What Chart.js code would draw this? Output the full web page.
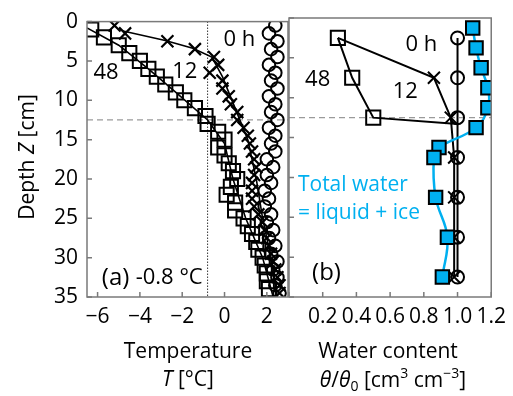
<!DOCTYPE html>
<html>
<head>
<meta charset="utf-8">
<script src="https://cdn.jsdelivr.net/npm/chart.js@4.4.1/dist/chart.umd.min.js"></script>
<style>
  html, body { margin: 0; padding: 0; background: #fff; }
  #wrap { position: relative; width: 513px; height: 396px; overflow: hidden; }
  #wrap canvas { position: absolute; top: 0; }
  #tempChart { left: 0; }
  #waterChart { left: 250px; }
</style>
</head>
<body>
<div id="wrap">
  <canvas id="tempChart" width="300" height="396"></canvas>
  <canvas id="waterChart" width="263" height="396"></canvas>
</div>
<script>
// ---- data (a) temperature profiles ----
const depthT = [0.5, 1.5, 2.5, 3.5, 4.5, 5.5, 6.5, 7.5, 8.5, 9.5, 10.5, 11.5, 12.5, 13.5, 14.5, 15.5, 16.5, 17.5,
  18.5, 19.5, 20.5, 21.5, 22.5, 23.5, 24.5, 25.5, 26.5, 27.5, 28.5, 29.5, 30.5, 31.5, 32.5, 33.5, 34.5];
const temp0h = [2.4, 2.1, 2.5, 2.2, 2.5, 2.1, 2.4, 2.2, 2.5, 2.1, 2.4, 2.2, 2.5, 2.1, 2.4, 2.2, 2.4, 2.0,
  2.3, 2.0, 2.2, 1.9, 2.1, 1.9, 2.2, 2.0, 2.3, 2.1, 2.4, 2.2, 2.5, 2.3, 2.5, 2.4, 2.6];
const temp12h = [-5.2, -4.7, -2.7, -1.4, -0.5, -0.3, -0.7, -0.1, -0.1, 0.2, 0.3, 0.6, 0.6, 0.9, 1.1, 1.2, 1.3, 1.4,
  1.5, 1.4, 1.3, 1.3, 1.3, 1.4, 1.6, 1.8, 1.9, 2.0, 2.1, 2.2, 2.3, 2.4, 2.5, 2.6, 2.6];
const depthT48 = [1, 2, 3, 4, 5, 6, 7, 8, 9, 10, 11, 12, 13, 14, 15, 16, 17, 18, 19, 20, 21, 22, 23, 24, 25, 26, 27,
  28, 29, 30, 31, 32, 33, 34];
const temp48h = [-6.3, -5.7, -5.0, -4.5, -4.0, -3.6, -3.2, -2.8, -2.3, -1.9, -1.4, -0.9, -0.8, -0.3, 0.0, -0.3, 0.0,
  0.2, 0.4, 0.6, 0.3, 0.1, 0.5, 0.5, 0.9, 1.1, 1.3, 1.5, 1.6, 1.8, 1.9, 2.0, 2.0, 2.1];
// simulated profiles (lines)
const depth12Sim = [1.2, 2.4, 3.4, 4.5, 7, 11, 15, 20, 25, 30, 35];
const temp12Sim = [-4.8, -2.8, -1.5, -0.6, -0.1, 0.5, 1.1, 1.5, 1.8, 2.2, 2.5];
const depth48Sim = [0.8, 3, 6, 9, 12.5, 15.5, 20, 25, 30, 35];
const temp48Sim = [-6.5, -5.0, -3.6, -2.3, -0.8, 0.0, 0.4, 1.0, 1.8, 2.3];

// ---- data (b) water content ----
const depthW = [2.5, 7.5, 12.5, 17.5, 22.5, 27.5, 32.5];
const water0h = [1.0, 1.0, 1.0, 1.0, 1.0, 1.0, 1.0];
const water12h = [0.29, 0.86, 0.96, 0.98, 0.98, 0.98, 0.98];
const depthW48 = [2.5, 7.5, 12.5, 13.3];
const water48h = [0.29, 0.375, 0.50, 1.0];
const depthTotal = [1.25, 3.75, 6.25, 8.75, 11.25, 13.75, 16.25, 17.5, 22.5, 27.5, 32.5];
const waterTotal = [1.09, 1.11, 1.14, 1.18, 1.18, 1.11, 0.89, 0.86, 0.87, 0.94, 0.91];

// ---- ticks / reference lines ----
const depthTicks = [0, 5, 10, 15, 20, 25, 30, 35];
const tempTicks = [-6, -4, -2, 0, 2];
const waterTicks = [0, 0.2, 0.4, 0.6, 0.8, 1.0, 1.2];
const freezeTemp = -0.8;
const frontDepth = 12.5;

const FONT = "'Open Sans', 'Noto Sans', sans-serif";
const CYAN = '#00b0f0';
Chart.defaults.font.family = FONT;
Chart.defaults.font.size = 21;
Chart.defaults.color = '#000';

const pts = (xs, ys) => xs.map((v, i) => ({ x: v, y: ys[i] }));

// rich text: parts = [{t, it, sub, sup}]
function drawRich(ctx, parts, x, y, size, color) {
  const fontOf = p => (p.it ? 'italic ' : '') + Math.round((p.sub || p.sup) ? size * 0.65 : size) + 'px ' + FONT;
  let w = 0;
  parts.forEach(p => { ctx.font = fontOf(p); w += ctx.measureText(p.t).width; });
  let cx = x - w / 2;
  ctx.fillStyle = color;
  ctx.textAlign = 'left';
  ctx.textBaseline = 'middle';
  parts.forEach(p => {
    ctx.font = fontOf(p);
    const dy = p.sup ? -size * 0.32 : p.sub ? size * 0.3 : 0;
    ctx.fillText(p.t, cx, y + dy);
    cx += ctx.measureText(p.t).width;
  });
}

const panelPlugin = {
  id: 'panel',
  beforeDatasetsDraw(chart, args, opts) {
    const { ctx, chartArea: a, scales } = chart;
    ctx.save();
    const yF = scales.y.getPixelForValue(frontDepth);
    ctx.strokeStyle = '#9a9a9a';
    ctx.lineWidth = 1.2;
    ctx.setLineDash([6, 4]);
    ctx.beginPath(); ctx.moveTo(a.left, yF); ctx.lineTo(a.right, yF); ctx.stroke();
    if (opts.freeze) {
      const xF = scales.x.getPixelForValue(freezeTemp);
      ctx.strokeStyle = '#000';
      ctx.lineWidth = 1;
      ctx.setLineDash([1.2, 1.8]);
      ctx.beginPath(); ctx.moveTo(xF, a.top); ctx.lineTo(xF, a.bottom); ctx.stroke();
    }
    ctx.restore();
  },
  afterDraw(chart, args, opts) {
    const { ctx, chartArea: a, scales } = chart;
    ctx.save();
    ctx.strokeStyle = '#7a7a7a';
    ctx.lineWidth = 1.5;
    ctx.strokeRect(a.left, a.top, a.right - a.left, a.bottom - a.top);
    // inward tick marks
    ctx.beginPath();
    scales.y.ticks.forEach(t => {
      const y = scales.y.getPixelForValue(t.value);
      ctx.moveTo(a.left, y); ctx.lineTo(a.left + 5, y);
    });
    scales.x.ticks.forEach(t => {
      const x = scales.x.getPixelForValue(t.value);
      ctx.moveTo(x, a.bottom); ctx.lineTo(x, a.bottom - 5);
    });
    ctx.stroke();
    // text inside the panel
    (opts.notes || []).forEach(n => {
      ctx.font = (n.size || 22) + 'px ' + FONT;
      ctx.fillStyle = n.color || '#000';
      ctx.textAlign = n.align || 'center';
      ctx.textBaseline = 'middle';
      ctx.fillText(n.text, scales.x.getPixelForValue(n.x), scales.y.getPixelForValue(n.y));
    });
    // axis titles
    (opts.titles || []).forEach(tt => {
      ctx.save();
      ctx.translate(tt.x, tt.y);
      if (tt.rot) ctx.rotate(-Math.PI / 2);
      drawRich(ctx, tt.parts, 0, 0, 21, '#000');
      ctx.restore();
    });
    ctx.restore();
  }
};

function yAxis(width, showLabels) {
  return {
    type: 'linear', min: 0, max: 35, reverse: true,
    grid: { display: false, drawTicks: false }, border: { display: false },
    afterBuildTicks: s => { s.ticks = depthTicks.map(v => ({ value: v })); },
    afterFit: s => { s.width = width; },
    ticks: { display: showLabels, padding: 9 }
  };
}

const tempChart = new Chart(document.getElementById('tempChart'), {
  type: 'scatter',
  data: {
    datasets: [
      { data: pts(temp48h, depthT48), pointStyle: 'rect', pointRadius: 10, borderColor: '#000', backgroundColor: 'transparent', borderWidth: 2 },
      { data: pts(temp12h, depthT), pointStyle: 'crossRot', pointRadius: 8.5, borderColor: '#000', backgroundColor: 'transparent', borderWidth: 2.2 },
      { data: pts(temp0h, depthT), pointStyle: 'circle', pointRadius: 6.3, borderColor: '#000', backgroundColor: 'transparent', borderWidth: 2 },
      { data: pts(temp12Sim, depth12Sim), showLine: true, pointRadius: 0, borderColor: '#000', borderWidth: 1.6 },
      { data: pts(temp48Sim, depth48Sim), showLine: true, pointRadius: 0, borderColor: '#000', borderWidth: 1.6 }
    ]
  },
  options: {
    responsive: false, animation: false,
    layout: { padding: { top: 18, right: 11, left: 0, bottom: 0 } },
    plugins: {
      legend: { display: false }, tooltip: { enabled: false },
      panel: {
        freeze: true,
        notes: [
          { text: '0 h', x: 0.7, y: 2.25 },
          { text: '12', x: -1.88, y: 6.4 },
          { text: '48', x: -5.6, y: 6.5 },
          { text: '(a)', x: -5.8, y: 32.6, align: 'left', size: 24 },
          { text: '-0.8 °C', x: -4.2, y: 32.6, align: 'left', size: 22 }
        ],
        titles: [
          { x: 28, y: 157, rot: true, parts: [{ t: 'Depth ' }, { t: 'Z', it: true }, { t: ' [cm]' }] },
          { x: 188, y: 352, parts: [{ t: 'Temperature' }] },
          { x: 188, y: 380, parts: [{ t: 'T', it: true }, { t: ' [°C]' }] }
        ]
      }
    },
    scales: {
      x: {
        type: 'linear', min: -6.5, max: 3,
        grid: { display: false, drawTicks: false }, border: { display: false },
        afterBuildTicks: s => { s.ticks = tempTicks.map(v => ({ value: v })); },
        afterFit: s => { s.height = 99; },
        ticks: { padding: 7, maxRotation: 0, minRotation: 0, autoSkip: false,
          callback: v => v < 0 ? '\u2212' + Math.abs(v) : String(v) }
      },
      y: yAxis(87, true)
    }
  },
  plugins: [panelPlugin]
});

const waterChart = new Chart(document.getElementById('waterChart'), {
  type: 'scatter',
  data: {
    datasets: [
      { data: pts(waterTotal, depthTotal), showLine: true, tension: 0.4, borderColor: CYAN, borderWidth: 2.5,
        pointStyle: 'rect', pointRadius: 9.5, pointBackgroundColor: CYAN, pointBorderColor: '#000', pointBorderWidth: 2 },
      { data: pts(water48h, depthW48), showLine: true, borderColor: '#000', borderWidth: 2,
        pointStyle: 'rect', pointRadius: [10, 10, 10, 0], backgroundColor: 'transparent', pointBorderWidth: 2 },
      { data: pts(water12h, depthW), showLine: true, borderColor: '#000', borderWidth: 2,
        pointStyle: 'crossRot', pointRadius: [0, 8.5, 8.5, 8.5, 8.5, 8.5, 8.5], backgroundColor: 'transparent', pointBorderWidth: 2 },
      { data: pts(water0h, depthW), showLine: true, borderColor: '#000', borderWidth: 2,
        pointStyle: 'circle', pointRadius: 6.5, backgroundColor: 'transparent', pointBorderWidth: 2 }
    ]
  },
  options: {
    responsive: false, animation: false,
    layout: { padding: { top: 18, right: 21, left: 0, bottom: 0 } },
    plugins: {
      legend: { display: false }, tooltip: { enabled: false },
      panel: {
        freeze: false,
        notes: [
          { text: '0 h', x: 0.785, y: 3.4 },
          { text: '48', x: 0.17, y: 7.8 },
          { text: '12', x: 0.69, y: 9.2 },
          { text: '(b)', x: 0.137, y: 32.0, align: 'left', size: 24 },
          { text: 'Total water', x: 0.053, y: 20.95, align: 'left', size: 21, color: CYAN },
          { text: '= liquid + ice', x: 0.053, y: 24.5, align: 'left', size: 21, color: CYAN }
        ],
        titles: [
          { x: 138, y: 352, parts: [{ t: 'Water content' }] },
          { x: 143, y: 381, parts: [{ t: 'θ', it: true }, { t: '/' }, { t: 'θ', it: true }, { t: '0', sub: true },
            { t: ' [cm' }, { t: '3', sup: true }, { t: ' cm' }, { t: '\u22123', sup: true }, { t: ']' }] }
        ]
      }
    },
    scales: {
      x: {
        type: 'linear', min: 0, max: 1.2,
        grid: { display: false, drawTicks: false }, border: { display: false },
        afterBuildTicks: s => { s.ticks = waterTicks.map(v => ({ value: v })); },
        afterFit: s => { s.height = 99; },
        ticks: { padding: 7, maxRotation: 0, minRotation: 0, autoSkip: false,
          callback: v => v === 0 ? '' : v.toFixed(1) }
      },
      y: yAxis(39, false)
    }
  },
  plugins: [panelPlugin]
});
</script>
</body>
</html>
